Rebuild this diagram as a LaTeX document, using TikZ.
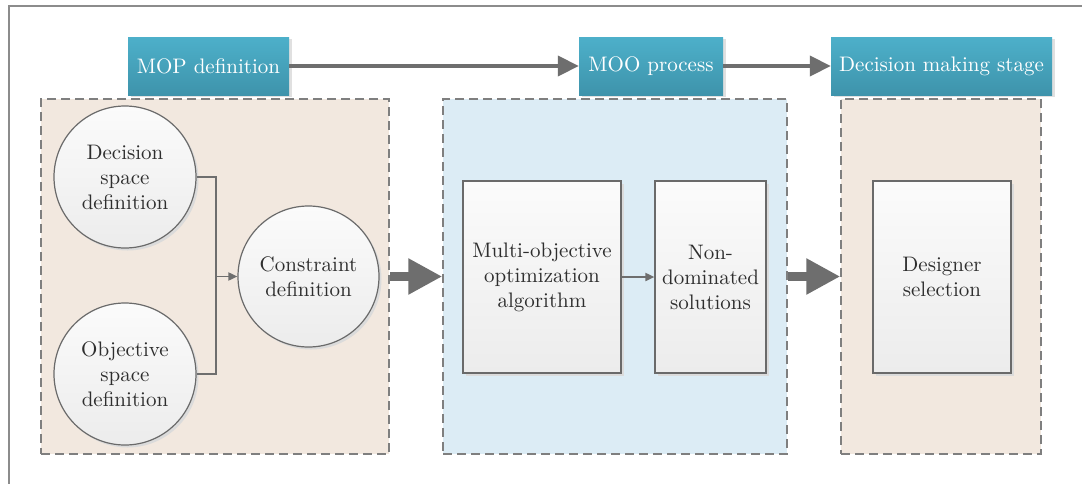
\documentclass[tikz,border=0pt]{standalone}
\usepackage{fontspec}
\setmainfont{lmroman10-regular.otf}
\usetikzlibrary{arrows.meta,shadows}

\definecolor{frameGray}{HTML}{8C8C8C}
\definecolor{lineGray}{HTML}{6E6E6E}
\definecolor{dashGray}{HTML}{7F7F7F}
\definecolor{beigeFill}{HTML}{F2E8DF}
\definecolor{blueFill}{HTML}{DCECF5}
\definecolor{tealTop}{HTML}{4DB0CA}
\definecolor{tealBot}{HTML}{3E93AB}
\definecolor{boxTop}{HTML}{FBFBFB}
\definecolor{boxBot}{HTML}{ECECEC}
\definecolor{textDark}{HTML}{2E2E2E}
\definecolor{edgeGray}{HTML}{6A6A6A}

\tikzset{
  x=1pt, y=-1pt,
  every node/.style={inner sep=0pt, align=center,
    font=\fontsize{21}{25}\selectfont},
  header/.style={rectangle, top color=tealTop, bottom color=tealBot,
    draw=none, text=white, minimum height=58pt,
    drop shadow={shadow xshift=3pt, shadow yshift=-2pt, fill=black!12, opacity=1}},
  panel/.style={rectangle, draw=dashGray, line width=1.5pt,
    dash pattern=on 9pt off 5pt, minimum height=355pt},
  stepbox/.style={rectangle, draw=edgeGray, line width=1.2pt,
    top color=boxTop, bottom color=boxBot, text=textDark,
    minimum height=192pt,
    drop shadow={shadow xshift=2.5pt, shadow yshift=-2.5pt, fill=black!14, opacity=1}},
  disc/.style={circle, draw=edgeGray, line width=1.2pt,
    top color=boxTop, bottom color=boxBot, text=textDark,
    minimum size=142pt,
    drop shadow={shadow xshift=2.5pt, shadow yshift=-2.5pt, fill=black!14, opacity=1}},
  flow/.style={draw=lineGray, line width=4pt,
    -{Triangle[length=21pt, width=20pt]}},
  bigflow/.style={draw=lineGray, line width=9pt,
    -{Triangle[length=34pt, width=34pt]}},
  link/.style={draw=lineGray, line width=1.8pt},
  linkarrow/.style={link, -{Triangle[length=9pt, width=8pt]}},
}

\begin{document}
\begin{tikzpicture}
\useasboundingbox (0,0) rectangle (1082,483);
\fill[white] (0,0) rectangle (1082,483);

% outer frame (runs past the right and bottom edges)
\draw[frameGray, line width=1.5pt] (9,500) -- (9,6) -- (1100,6);

% stage panels
\node[panel, fill=beigeFill, minimum width=348pt] (lp) at (215,276.5) {};
\node[panel, fill=blueFill,  minimum width=344pt] (mp) at (615,276.5) {};
\node[panel, fill=beigeFill, minimum width=200pt] (rp) at (941,276.5) {};

% stage headers
\node[header, minimum width=161pt] (mop) at (208.5,66) {MOP definition};
\node[header, minimum width=144pt] (moo) at (651,66) {MOO process};
\node[header, minimum width=221pt] (dms) at (941.5,66) {Decision making stage};

\draw[flow] (mop.east) -- (moo.west);
\draw[flow] (moo.east) -- (dms.west);

% problem definition
\node[disc] (dec) at (125,177) {Decision\\space\\definition};
\node[disc] (obj) at (125,374) {Objective\\space\\definition};
\node[disc, minimum size=141pt] (con) at (308.5,276.5) {Constraint\\definition};

\coordinate (j) at (216,276.5);
\draw[link] (dec.east) -| (j);
\draw[link] (obj.east) -| (j);
\draw[linkarrow] (j) -- (con.west);

% optimisation
\node[stepbox, minimum width=158pt] (moa) at (542,277) {Multi-objective\\optimization\\algorithm};
\node[stepbox, minimum width=111pt] (nds) at (710.5,277) {Non-\\dominated\\solutions};
\draw[linkarrow] (moa.east) -- (nds.west);

% decision making
\node[stepbox, minimum width=138pt] (dsel) at (942,277) {Designer\\selection};

% transitions between stages
\draw[bigflow] (lp.east) -- (mp.west);
\draw[bigflow] (mp.east) -- (rp.west);
\end{tikzpicture}
\end{document}
